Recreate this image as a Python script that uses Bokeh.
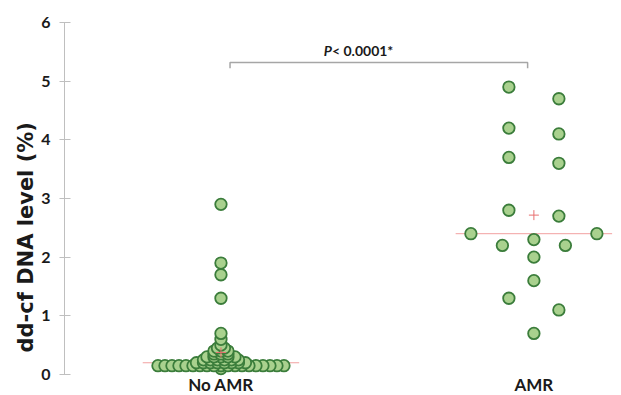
import numpy as np
from bokeh.plotting import figure
from bokeh.models import Range1d, FixedTicker, Label, ColumnDataSource, Title
from bokeh.core.properties import value
from bokeh.embed import file_html
from bokeh.resources import INLINE

# ---- data ----
categories = ["No AMR", "AMR"]
no_amr_values = [2.9, 1.9, 1.7, 1.3, 0.7, 0.6, 0.5, 0.45, 0.45,
                 0.4, 0.4, 0.4, 0.35, 0.35, 0.35,
                 0.3, 0.3, 0.3, 0.3, 0.3,
                 0.25, 0.25, 0.25, 0.25, 0.25, 0.25,
                 0.2, 0.2, 0.2, 0.2, 0.2, 0.2, 0.2, 0.2,
                 0.15, 0.15, 0.15, 0.15, 0.15, 0.15, 0.15, 0.15, 0.15, 0.15,
                 0.15, 0.15, 0.15, 0.15, 0.15, 0.15, 0.15, 0.15, 0.15,
                 0.1]
amr_values = [4.9, 4.7, 4.2, 4.1, 3.7, 3.6, 2.8, 2.7, 2.4, 2.4, 2.3, 2.2,
              2.2, 2.0, 1.6, 1.3, 1.1, 0.7]
y_ticks = [0, 1, 2, 3, 4, 5, 6]
y_label = "dd-cf DNA level (%)"
p_value_italic = "P"
p_value_rest = "< 0.0001*"

FONT = "Lato"
PX_PER_X = 313.0  # pixels per x data unit (for swarm spacing)


def swarm_rows(vals, tol, step_px, max_width_px):
    """Group near-equal values into rows and spread each row symmetrically:
    the row's median value sits in the centre, the others from the outside in."""
    order = sorted(range(len(vals)), key=lambda i: -vals[i])
    offs = [0.0] * len(vals)
    rows = []
    for i in order:
        if rows and vals[rows[-1][0]] - vals[i] <= tol + 1e-9:
            rows[-1].append(i)
        else:
            rows.append([i])
    for row in rows:
        n = len(row)
        if n == 1:
            continue
        step = min(step_px, max_width_px / (n - 1))
        slots = [(k - (n - 1) / 2.0) * step for k in range(n)]
        slots.sort(key=lambda s: (-abs(s), s))
        members = list(row)
        if n % 2 == 1:
            mid = members.pop(n // 2)
            offs[mid] = 0.0
            slots = [s for s in slots if abs(s) > 1e-12]
        for i, s in zip(members, slots):
            offs[i] = s / PX_PER_X
    return offs


groups = [no_amr_values, amr_values]
swarm_params = [(0.01, 7.0, 126.0), (0.21, 50.0, 126.0)]

p = figure(width=621, height=395, output_backend="svg", toolbar_location=None,
           x_range=Range1d(0.5, 2.28), y_range=Range1d(-0.358, 6),
           min_border_left=64, min_border_right=0, min_border_top=22,
           min_border_bottom=0)
p.outline_line_color = None
p.xgrid.grid_line_color = None
p.ygrid.grid_line_color = None
p.background_fill_color = "white"
p.border_fill_color = "white"
p.xaxis.visible = False

# medians
for gi, vals in enumerate(groups):
    cx = gi + 1
    med = float(np.median(vals))
    p.segment(x0=[cx - 0.25], x1=[cx + 0.25], y0=[med], y1=[med],
              line_color="#f2a0a0", line_width=1)

# points
for gi, vals in enumerate(groups):
    cx = gi + 1
    offs = swarm_rows(vals, *swarm_params[gi])
    xs = [cx + o for o in offs]
    order = sorted(range(len(vals)), key=lambda i: vals[i])
    src = ColumnDataSource(dict(x=[xs[i] for i in order], y=[vals[i] for i in order]))
    p.scatter("x", "y", source=src, size=11.5, fill_color="#a9d18e",
              line_color="#3b7d3b", line_width=1.8)

# means
for gi, vals in enumerate(groups):
    cx = gi + 1
    mean = float(np.mean(vals))
    p.scatter(x=[cx], y=[mean], marker="cross", size=10,
              line_color="#e87070", line_width=1)

# category labels (drawn under the zero line, like the reference)
cat_src = ColumnDataSource(dict(x=[1, 2], y=[-0.17, -0.17], t=categories))
p.text(x="x", y="y", text="t", source=cat_src, text_font=value(FONT),
       text_font_style="bold", text_font_size="17px", text_align="center",
       text_baseline="middle", text_color="#1a1a1a")

# significance bracket
bx0, bx1, by, bdrop = 1.029, 1.98, 5.32, 0.1
p.line(x=[bx0, bx0, bx1, bx1], y=[by - bdrop, by, by, by - bdrop],
       line_color="#a6a6a6", line_width=1.5)
p.add_layout(Label(x=1.3546, y=5.52, text=p_value_italic, text_font=FONT,
                   text_font_style="bold italic", text_font_size="14px",
                   text_align="right", text_baseline="middle",
                   text_color="#1a1a1a"))
p.add_layout(Label(x=1.3546, y=5.52, text=p_value_rest, text_font=FONT,
                   text_font_style="bold", text_font_size="14px",
                   text_align="left", text_baseline="middle",
                   text_color="#1a1a1a"))

# y axis
p.yaxis.ticker = FixedTicker(ticks=y_ticks)
p.yaxis.bounds = (0, 6)
p.yaxis.axis_line_color = "#bfbfbf"
p.yaxis.major_tick_line_color = "#bfbfbf"
p.yaxis.minor_tick_line_color = None
p.yaxis.major_tick_in = 6
p.yaxis.major_tick_out = 5
p.yaxis.major_label_text_font = FONT
p.yaxis.major_label_text_font_style = "bold"
p.yaxis.major_label_text_font_size = "16px"
p.yaxis.major_label_text_color = "#1a1a1a"
p.yaxis.major_label_standoff = 9

p.add_layout(Title(text=y_label, align="left", offset=43, standoff=2,
                   text_font="DejaVu Sans", text_font_style="bold",
                   text_font_size="21px", text_color="#1a1a1a"), "left")

open("out.html", "w").write(file_html(p, INLINE))
